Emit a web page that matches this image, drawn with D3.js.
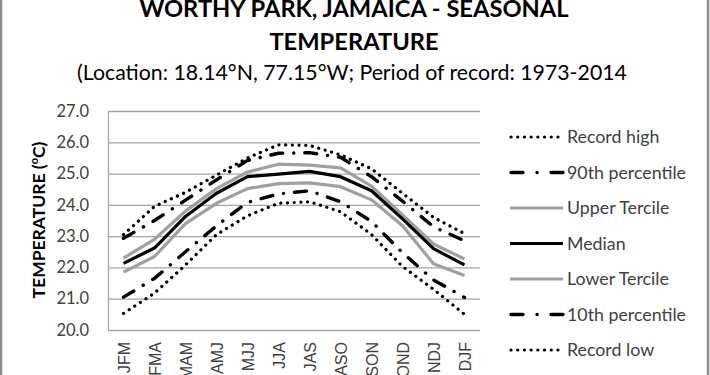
<!DOCTYPE html>
<html>
<head>
<meta charset="utf-8">
<script src="https://cdn.jsdelivr.net/npm/d3@7"></script>
<style>
  body { margin: 0; background: #fff; }
  svg { display: block; font-family: Lato, "Open Sans", sans-serif; }
</style>
</head>
<body>
<div id="chart"></div>
<script>
// seasons (3-month windows)
var seasons = ["JFM", "FMA", "MAM", "AMJ", "MJJ", "JJA", "JAS", "ASO", "SON", "OND", "NDJ", "DJF"];

// values, deg C
var recordHigh = [23.05, 23.95, 24.4, 24.95, 25.5, 25.92, 25.9, 25.6, 25.15, 24.37, 23.6, 23.08];
var pct90      = [22.93, 23.5, 24.15, 24.8, 25.42, 25.65, 25.67, 25.52, 24.9, 24.12, 23.3, 22.85];
var upperTerc  = [22.3, 22.9, 23.8, 24.52, 25.05, 25.3, 25.27, 25.18, 24.6, 23.68, 22.75, 22.27];
var median     = [22.13, 22.62, 23.63, 24.37, 24.9, 24.98, 25.07, 24.9, 24.45, 23.55, 22.6, 22.08];
var lowerTerc  = [21.85, 22.35, 23.4, 24.05, 24.52, 24.68, 24.7, 24.58, 24.16, 23.33, 22.12, 21.74];
var pct10      = [21.05, 21.65, 22.5, 23.33, 24.08, 24.35, 24.45, 24.1, 23.47, 22.47, 21.6, 21.04];
var recordLow  = [20.53, 21.18, 22.08, 23.05, 23.65, 24.05, 24.1, 23.78, 23.05, 22.03, 21.3, 20.5];

var yTicks = [20, 21, 22, 23, 24, 25, 26, 27];

var W = 710, H = 375;
var m = {left: 108, right: 230, top: 111, bottom: 45};

var svg = d3.select("#chart").append("svg")
  .attr("width", W)
  .attr("height", H);

// outer chart frame (top and bottom fall outside the picture)
svg.append("rect")
  .attr("x", 1).attr("y", -10)
  .attr("width", W - 3).attr("height", H + 20)
  .attr("fill", "none")
  .attr("stroke", "#8c8c8c")
  .attr("stroke-width", 2.5);

var x = d3.scaleBand()
  .domain(seasons)
  .range([m.left, W - m.right]);

var y = d3.scaleLinear()
  .domain([20, 27])
  .range([H - m.bottom, m.top]);

var cx = d => x(d) + x.bandwidth() / 2;

// gridlines
svg.append("g")
  .attr("transform", `translate(${m.left},0)`)
  .call(d3.axisLeft(y).tickValues(yTicks).tickSize(-(W - m.right - m.left)).tickFormat(""))
  .call(g => g.select(".domain").remove())
  .call(g => g.selectAll(".tick line").attr("stroke", "#a6a6a6").attr("stroke-width", 1.3));

// y axis
svg.append("g")
  .attr("transform", `translate(${m.left},0)`)
  .call(d3.axisLeft(y).tickValues(yTicks).tickSize(0).tickPadding(19).tickFormat(d3.format(".1f")))
  .call(g => g.select(".domain").attr("stroke", "#a6a6a6").attr("stroke-width", 1.3))
  .call(g => g.selectAll("text").attr("font-size", 16.5).attr("fill", "#404040")
    .attr("font-family", "Lato, sans-serif"));

// x axis labels
svg.append("g")
  .attr("transform", `translate(0,${H - m.bottom})`)
  .call(d3.axisBottom(x).tickSize(0).tickPadding(0))
  .call(g => g.select(".domain").remove())
  .call(g => g.selectAll("text")
    .attr("font-size", 16)
    .attr("fill", "#404040")
    .attr("text-anchor", "end")
    .attr("transform", "translate(6,12) rotate(-90)")
    .attr("dy", 0).attr("y", 0).attr("x", 0));

// series definitions
var series = [
  {name: "Record high",     values: recordHigh, color: "#000", width: 3.2, dash: "0.1 6.6", cap: "round"},
  {name: "90th percentile", values: pct90,      color: "#000", width: 3.4, dash: "12 11 0.1 11", cap: "round"},
  {name: "Upper Tercile",   values: upperTerc,  color: "#a0a0a0", width: 3.2, dash: null, cap: "butt"},
  {name: "Median",          values: median,     color: "#000", width: 3.2, dash: null, cap: "butt"},
  {name: "Lower Tercile",   values: lowerTerc,  color: "#a0a0a0", width: 3.2, dash: null, cap: "butt"},
  {name: "10th percentile", values: pct10,      color: "#000", width: 3.4, dash: "12 11 0.1 11", cap: "round"},
  {name: "Record low",      values: recordLow,  color: "#000", width: 3.2, dash: "0.1 6.6", cap: "round"}
];

var line = d3.line()
  .x((d, i) => cx(seasons[i]))
  .y(d => y(d));

svg.append("g").selectAll("path")
  .data(series)
  .join("path")
    .attr("d", d => line(d.values))
    .attr("fill", "none")
    .attr("stroke", d => d.color)
    .attr("stroke-width", d => d.width)
    .attr("stroke-dasharray", d => d.dash)
    .attr("stroke-linecap", d => d.cap)
    .attr("stroke-linejoin", "round");

// legend
var legend = svg.append("g").selectAll("g")
  .data(series)
  .join("g")
    .attr("transform", (d, i) => `translate(510,${137 + i * 35.5})`);

legend.append("line")
  .attr("x1", d => d.cap === "round" ? 1 : 0)
  .attr("x2", 53)
  .attr("stroke", d => d.color)
  .attr("stroke-width", d => d.width)
  .attr("stroke-dasharray", d => d.name.indexOf("percentile") > 0 ? "12 14 0.1 14" : d.dash)
  .attr("stroke-linecap", d => d.cap);

legend.append("text")
  .attr("x", 57)
  .attr("dy", "0.35em")
  .attr("font-size", 17.8)
  .attr("fill", "#404040")
  .text(d => d.name);

// y axis title
svg.append("text")
  .attr("transform", "translate(45,220) rotate(-90)")
  .attr("text-anchor", "middle")
  .attr("font-size", 17.5)
  .attr("font-weight", "bold")
  .attr("fill", "#000")
  .call(t => t.append("tspan").text("TEMPERATURE ("))
  .call(t => t.append("tspan").attr("font-size", 11).attr("dy", -7).text("o"))
  .call(t => t.append("tspan").attr("dy", 7).text("C)"));

// titles
svg.append("text")
  .attr("x", 354).attr("y", 17)
  .attr("text-anchor", "middle")
  .attr("font-size", 23.7)
  .attr("font-weight", "bold")
  .text("WORTHY PARK, JAMAICA - SEASONAL");

svg.append("text")
  .attr("x", 354).attr("y", 50)
  .attr("text-anchor", "middle")
  .attr("font-size", 23.7)
  .attr("font-weight", "bold")
  .text("TEMPERATURE");

svg.append("text")
  .attr("x", 352).attr("y", 80)
  .attr("text-anchor", "middle")
  .attr("font-size", 21.3)
  .text("(Location: 18.14°N, 77.15°W; Period of record: 1973-2014");
</script>
</body>
</html>
